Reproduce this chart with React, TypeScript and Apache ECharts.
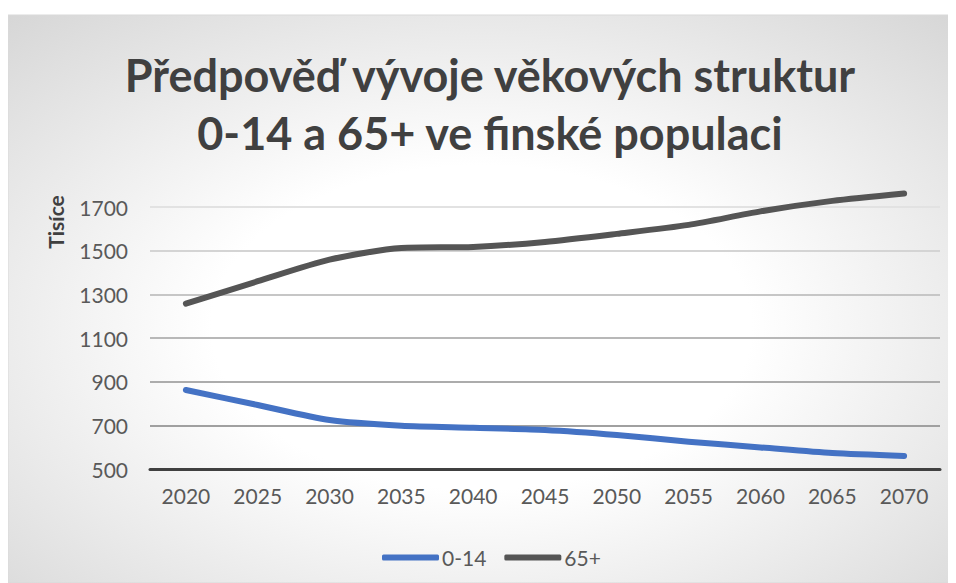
import React, { useEffect, useRef } from "react";
import * as echarts from "echarts";

const years = ["2020", "2025", "2030", "2035", "2040", "2045", "2050", "2055", "2060", "2065", "2070"];
const age0to14 = [862, 793, 724, 698, 689, 679, 656, 625, 599, 573, 560];
const age65plus = [1257, 1360, 1459, 1512, 1517, 1540, 1577, 1618, 1680, 1728, 1762];
const seriesNames = ["0-14", "65+"];
const titleText = "Předpověď vývoje věkových struktur\n0-14 a 65+ ve finské populaci";
const yAxisTitle = "Tisíce";

export default function App() {
  const ref = useRef<HTMLDivElement>(null);
  useEffect(() => {
    if (!ref.current) return;
    const chart = echarts.init(ref.current, null, { renderer: "svg" });
    const font = "Lato, 'Open Sans', sans-serif";
    chart.setOption({
      animation: false,
      graphic: [
        {
          type: "rect",
          z: -10,
          silent: true,
          shape: { x: 0, y: 7, width: 947, height: 568 },
          style: {
            fill: new echarts.graphic.RadialGradient(0.5, 0.55, 0.95, [
              { offset: 0, color: "#ffffff" },
              { offset: 0.3, color: "#ffffff" },
              { offset: 1, color: "#c4c4c4" },
            ]),
            stroke: "#d9d9d9",
            lineWidth: 1,
          },
        },
        {
          type: "text",
          x: 482,
          y: 38,
          style: {
            text: titleText,
            fill: "#404040",
            font: "bold 45px " + font,
            lineHeight: 58,
            align: "center",
            verticalAlign: "top",
          },
        },
        {
          type: "text",
          x: 47,
          y: 214,
          rotation: Math.PI / 2,
          style: {
            text: yAxisTitle,
            fill: "#404040",
            font: "bold 21px " + font,
            align: "center",
            verticalAlign: "middle",
          },
        },
      ],
      legend: {
        data: seriesNames,
        left: 369,
        top: 534,
        icon: "roundRect",
        itemWidth: 57,
        itemHeight: 6,
        itemGap: 18,
        textStyle: { fontFamily: font, fontSize: 21, color: "#595959", padding: [0, 0, 0, -2] },
      },
      grid: { left: 142, top: 199, width: 790, height: 262, containLabel: false },
      xAxis: {
        type: "category",
        data: years,
        boundaryGap: true,
        axisLine: { lineStyle: { color: "#404040", width: 3 } },
        axisTick: { show: false },
        axisLabel: { fontFamily: font, fontSize: 21, color: "#595959", margin: 16 },
      },
      yAxis: {
        type: "value",
        min: 500,
        max: 1700,
        interval: 200,
        axisLine: { show: false },
        axisTick: { show: false },
        axisLabel: {
          fontFamily: font,
          fontSize: 21,
          color: "#595959",
          margin: 22,
          formatter: (v: number) => String(v),
        },
        splitLine: {
          lineStyle: {
            width: 2,
            color: ["#404040", "#a0a0a0", "#acacac", "#b8b8b8", "#c6c6c6", "#d4d4d4", "#e2e2e2"],
          },
        },
      },
      series: [
        {
          name: seriesNames[0],
          type: "line",
          data: age0to14,
          smooth: 0.25,
          symbol: "none",
          clip: false,
          lineStyle: { color: "#4472C4", width: 6, cap: "round", join: "round" },
          itemStyle: { color: "#4472C4" },
        },
        {
          name: seriesNames[1],
          type: "line",
          data: age65plus,
          smooth: 0.25,
          symbol: "none",
          clip: false,
          lineStyle: { color: "#555555", width: 6, cap: "round", join: "round" },
          itemStyle: { color: "#555555" },
        },
      ],
    });
    return () => chart.dispose();
  }, []);
  return <div ref={ref} style={{ width: 948, height: 575 }} />;
}
